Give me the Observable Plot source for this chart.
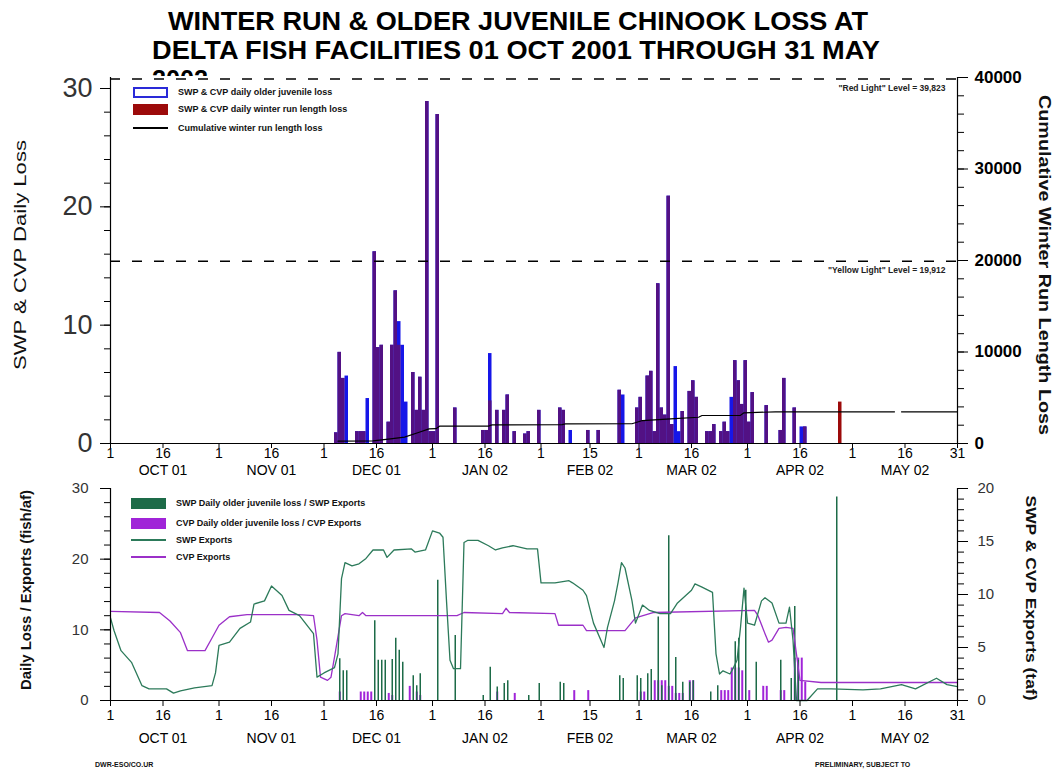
<!DOCTYPE html>
<html><head><meta charset="utf-8">
<script src="https://cdn.jsdelivr.net/npm/d3@7"></script>
<script src="https://cdn.jsdelivr.net/npm/@observablehq/plot@0.6"></script>
<style>
html,body{margin:0;padding:0;background:#fff;}
body{width:1060px;height:773px;position:relative;overflow:hidden;font-family:"Liberation Sans",Arial,sans-serif;}
.abs{position:absolute;}
.leg{position:absolute;font-size:9px;font-weight:bold;color:#111;white-space:nowrap;line-height:10px;}
.sw{position:absolute;box-sizing:border-box;}
</style></head><body>
<svg id="title" class="abs" style="left:0;top:0" width="1060" height="76"></svg>
<div id="top" class="abs" style="left:0;top:70px"></div>
<div id="bottom" class="abs" style="left:0;top:478px"></div>
<svg id="overlay" class="abs" style="left:0;top:0;pointer-events:none" width="1060" height="773"></svg>
<script>
// ---------------- DATA ----------------
const titleLines = ["WINTER RUN & OLDER JUVENILE CHINOOK LOSS AT", "DELTA FISH FACILITIES 01 OCT 2001 THROUGH 31 MAY", "2002"];
const tickDates = ["2001-10-01","2001-10-16","2001-11-01","2001-11-16","2001-12-01","2001-12-16","2002-01-01","2002-01-16","2002-02-01","2002-02-15","2002-03-01","2002-03-16","2002-04-01","2002-04-16","2002-05-01","2002-05-16","2002-05-31"];
const monthLabels = ["OCT 01","NOV 01","DEC 01","JAN 02","FEB 02","MAR 02","APR 02","MAY 02"];
const monthLabelDates = ["2001-10-16","2001-11-16","2001-12-16","2002-01-16","2002-02-15","2002-03-16","2002-04-16","2002-05-16"];

// top panel: days since 01 Oct 2001
const topDays = [64,65,66,67,70,71,72,73,75,76,77,79,80,81,82,83,84,86,87,88,89,90,91,92,93,98,106,107,108,110,112,113,115,118,119,122,128,129,131,136,139,145,146,150,151,152,153,154,155,156,157,158,159,160,161,162,163,165,166,167,170,171,172,174,175,176,177,178,179,180,181,182,183,187,191,192,195,197,198,208];
const juvLoss = [0.9,7.7,5.5,5.7,1.0,1.0,1.0,3.8,16.2,8.1,8.3,1.8,8.3,12.9,10.3,8.3,3.5,6.0,2.8,5.6,2.8,28.9,1.0,1.0,27.8,3.0,1.1,1.1,7.6,2.8,2.8,4.1,1.0,0.8,1.0,2.8,3.0,2.8,1.1,1.1,1.1,4.5,4.1,3.0,3.9,1.9,5.7,6.1,1.0,13.5,3.0,2.4,20.9,1.6,6.5,1.0,2.7,4.4,5.3,3.9,1.0,1.0,1.6,1.0,1.8,1.0,3.9,7.0,5.3,3.3,7.0,1.8,4.3,3.2,1.1,5.5,3.0,1.4,1.4,0];
const wrLoss = [0.9,7.7,5.5,0,1.0,1.0,1.0,0,16.2,8.1,8.3,1.8,8.3,12.9,8.3,0,0,6.0,2.8,5.6,2.8,28.9,1.0,1.0,27.8,3.0,1.1,1.1,3.6,2.8,2.8,4.1,1.0,0.8,1.0,2.8,3.0,2.8,0,1.1,1.1,4.5,0,3.0,3.9,1.9,5.7,6.1,1.0,13.5,3.0,2.4,20.9,1.6,0,0,2.7,4.4,5.3,3.9,1.0,1.0,1.6,1.0,1.8,1.0,0,7.0,5.3,3.3,7.0,1.8,4.3,3.2,1.1,5.5,3.0,0,1.4,3.5];
const cumDays = [65,75,80,84,88,91,93,94,108,109,129,130,149,152,160,168,169,180,181,190,224,225,226,242];
const cumLoss = [250,280,500,700,1200,1600,1620,1890,1900,2040,2060,2150,2160,2510,2700,2870,3060,3080,3350,3460,3460,null,3460,3460];
const redLight = 39823;
const yellowLight = 19912;

// bottom panel
const swpExpDays = [0,1,3,6,9,11,16,18,20,24,29,30,31,34,37,40,41,44,46,49,51,54,58,59,61,64,65,66,67,69,71,73,75,78,79,81,86,87,90,92,94,95,96,97,98,100,101,102,105,108,110,112,115,119,122,123,127,131,132,135,136,138,141,142,144,145,146,147,149,150,152,154,157,160,162,166,167,169,172,173,174,175,177,178,179,180,181,182,184,186,187,189,191,193,194,195,196,199,202,206,215,220,226,230,236,239,242];
const swpExports = [7.8,6.6,4.7,3.6,1.4,1.1,1.1,0.7,0.9,1.2,1.4,2.6,5.2,5.5,6.8,7.4,9.1,9.4,10.8,9.9,8.5,8.0,6.3,2.2,2.6,3.1,4.4,11.5,13.0,12.7,12.9,13.4,14.2,14.2,13.5,14.2,14.3,14.0,14.2,16.0,15.8,15.4,9.4,3.8,3.0,3.0,14.9,15.1,15.1,14.6,14.2,14.4,14.6,14.3,14.3,11.1,11.1,11.3,11.1,10.4,9.9,7.3,5.0,6.9,9.4,11.1,13.0,12.5,9.4,7.3,9.0,8.5,8.2,8.2,9.2,10.4,11.0,10.7,10.2,4.4,2.5,2.8,2.5,3.1,3.8,6.9,10.6,7.3,7.1,9.4,9.7,9.2,7.3,7.3,8.8,5.7,0,0,1.1,1.1,1.0,1.1,1.5,1.1,2.1,1.5,1.3];
const cvpExpDays = [0,14,17,20,22,27,29,31,34,39,54,58,59,60,62,63,64,66,67,71,72,73,99,101,112,113,114,127,128,135,136,147,150,155,184,185,187,188,189,191,193,195,197,203,242];
const cvpExports = [8.4,8.3,7.5,6.4,4.7,4.7,5.9,7.1,7.9,8.1,8.1,8.0,5.7,2.2,1.9,2.2,4.1,8.0,8.2,8.0,8.3,8.0,8.0,8.3,8.2,8.7,8.3,8.2,7.1,7.1,6.6,6.6,7.8,8.3,8.5,8.0,6.3,5.5,5.7,6.8,6.9,6.8,1.9,1.7,1.7];
const swpLossDays = [65,66,67,75,76,77,78,80,81,82,83,86,87,88,93,98,106,108,110,112,113,119,122,128,129,145,146,150,151,153,154,156,157,159,161,163,165,166,171,173,178,179,181,184,191,194,195,196,207];
const swpLossRatio = [5.9,4.2,4.2,11.3,5.7,5.7,5.7,5.8,8.8,7.1,5.4,3.5,2.1,3.8,17.0,9.2,0.7,4.7,1.9,2.4,2.8,0.7,2.4,2.6,2.4,3.5,3.1,3.5,3.1,3.8,4.4,11.8,2.1,23.3,6.1,2.6,2.6,2.8,1.2,2.1,8.3,8.8,15.6,5.4,5.7,3.1,13.3,5.7,28.8];
const cvpLossDays = [65,71,72,73,74,79,80,85,87,88,110,115,132,136,151,152,155,156,157,158,159,160,161,162,163,165,166,174,175,176,177,178,179,180,182,186,187,191,192,195,196,197,198];
const cvpLossRatio = [1.2,1.2,1.2,1.2,1.2,1.0,0.7,2.0,1.2,0.7,1.2,1.0,1.4,1.4,1.2,1.2,2.8,2.8,2.8,2.8,2.0,2.0,1.0,1.0,1.0,2.8,2.8,1.4,1.4,1.4,4.6,4.6,4.6,4.2,1.4,2.0,2.0,1.4,1.4,6.0,6.0,6.0,2.6];

// ---------------- BUILD ----------------
const FONT = "Liberation Sans, Arial, sans-serif";
const BLUE = "#1616e8", RED = "#9c0a0a", PURPLE = d3.interpolateRgb(BLUE, RED)(0.45);
const SWPG = "#1d6b48", SWPL = "#2c7a5a", CVPP = "#a024d8", CVPL = "#9b30c8";
const startDate = new Date("2001-10-01"), endDate = new Date("2002-05-31");
const dayToDate = d => new Date(startDate.getTime() + d * 864e5);
const ticks = tickDates.map(s => new Date(s));
const months = monthLabels.map((l, i) => ({date: new Date(monthLabelDates[i]), label: l}));

const topMax = 30 * 366 / 355;
const cumK = topMax / 40000;
const bars = topDays.map((d, i) => ({d0: dayToDate(d), d1: dayToDate(d + 1), juv: juvLoss[i], wr: wrLoss[i]}));
const cum = cumDays.map((d, i) => ({date: dayToDate(d), cum: cumLoss[i]}));
const fmt = d3.format(",");

const topPlot = Plot.plot({
  width: 1060, height: 410,
  marginLeft: 110, marginRight: 103, marginTop: 7, marginBottom: 37,
  style: {fontFamily: FONT, background: "transparent", color: "#000", overflow: "visible"},
  x: {type: "utc", domain: [startDate, endDate]},
  y: {domain: [0, topMax]},
  marks: [
    Plot.rect(bars.filter(b => b.juv > 0), {x1: "d0", x2: "d1", y1: 0, y2: "juv", fill: BLUE}),
    Plot.rect(bars.filter(b => b.wr > 0 && b.juv > 0), {x1: "d0", x2: "d1", y1: 0, y2: "wr", fill: PURPLE}),
    Plot.rect(bars.filter(b => b.wr > 0 && b.juv === 0), {x1: "d0", x2: "d1", y1: 0, y2: "wr", fill: RED}),
    Plot.ruleY([redLight * cumK, yellowLight * cumK], {stroke: "#000", strokeWidth: 1.5, strokeDasharray: "10,12"}),
    Plot.line(cum, {x: "date", y: d => d.cum == null ? NaN : d.cum * cumK, stroke: "#000", strokeWidth: 1.2}),
    Plot.text([{x: endDate, y: redLight * cumK, t: `"Red Light" Level = ${fmt(redLight)}`},
               {x: endDate, y: yellowLight * cumK, t: `"Yellow Light" Level = ${fmt(yellowLight)}`}],
      {x: "x", y: "y", text: "t", dx: -12, dy: 9, textAnchor: "end", fontSize: 8.5, fontWeight: "bold", fill: "#222"}),
    Plot.ruleY([0], {stroke: "#000", strokeWidth: 1.2}),
    Plot.ruleX([startDate, endDate], {y1: 0, y2: topMax, stroke: "#000", strokeWidth: 1.2}),
    Plot.axisY({ticks: [0, 10, 20, 30], tickSize: 10, tickPadding: 8, fontSize: 27, fill: "#333", label: null}),
    Plot.axisY({ticks: d3.range(0, 31, 2), tickSize: 6, tickFormat: () => "", label: null}),
    Plot.axisY({anchor: "right", ticks: d3.range(0, 40001, 10000).map(v => v * cumK), tickFormat: v => String(Math.round(v / cumK)), tickSize: 10, tickPadding: 7, fontSize: 17, fontWeight: "bold", label: null}),
    Plot.axisY({anchor: "right", ticks: d3.range(0, 40001, 2000).map(v => v * cumK), tickSize: 6, tickFormat: () => "", label: null}),
    Plot.axisX({ticks: ticks, tickFormat: d => String(d.getUTCDate()), tickSize: 5, tickPadding: 0, fontSize: 14, label: null}),
    Plot.text(months, {x: "date", y: 0, dy: 27, text: "label", fontSize: 14})
  ]
});
document.getElementById("top").appendChild(topPlot);

const expK = 30 / 20;
const swpExp = swpExpDays.map((d, i) => ({date: dayToDate(d), v: swpExports[i]}));
const cvpExp = cvpExpDays.map((d, i) => ({date: dayToDate(d), v: cvpExports[i]}));
const swpBars = swpLossDays.map((d, i) => ({date: dayToDate(d + 0.5), v: swpLossRatio[i]}));
const cvpBars = cvpLossDays.map((d, i) => ({date: dayToDate(d + 0.5), v: cvpLossRatio[i]}));

const botPlot = Plot.plot({
  width: 1060, height: 270,
  marginLeft: 110, marginRight: 103, marginTop: 10, marginBottom: 48,
  style: {fontFamily: FONT, background: "transparent", color: "#000", overflow: "visible"},
  x: {type: "utc", domain: [startDate, endDate]},
  y: {domain: [0, 30]},
  marks: [
    Plot.ruleX(cvpBars, {x: "date", y1: 0, y2: "v", stroke: CVPP, strokeWidth: 2}),
    Plot.ruleX(swpBars, {x: "date", y1: 0, y2: "v", stroke: SWPG, strokeWidth: 1.5}),
    Plot.line(cvpExp, {x: "date", y: d => d.v * expK, stroke: CVPL, strokeWidth: 1.3}),
    Plot.line(swpExp, {x: "date", y: d => d.v * expK, stroke: SWPL, strokeWidth: 1.3}),
    Plot.ruleY([0], {stroke: "#000", strokeWidth: 1.2}),
    Plot.ruleX([startDate, endDate], {y1: 0, y2: 30, stroke: "#000", strokeWidth: 1.2}),
    Plot.axisY({ticks: [0, 10, 20, 30], tickSize: 10, tickPadding: 12, fontSize: 15, fill: "#333", label: null}),
    Plot.axisY({ticks: d3.range(0, 31, 2), tickSize: 6, tickFormat: () => "", label: null}),
    Plot.axisY({anchor: "right", ticks: d3.range(0, 21, 5).map(v => v * expK), tickFormat: v => String(Math.round(v / expK)), tickSize: 10, tickPadding: 10, fontSize: 15, fill: "#333", label: null}),
    Plot.axisY({anchor: "right", ticks: d3.range(0, 21, 1).map(v => v * expK), tickSize: 6, tickFormat: () => "", label: null}),
    Plot.axisX({ticks: ticks, tickFormat: d => String(d.getUTCDate()), tickSize: 6, tickPadding: 4, fontSize: 14, label: null}),
    Plot.text(months, {x: "date", y: 0, dy: 38, text: "label", fontSize: 14})
  ]
});
document.getElementById("bottom").appendChild(botPlot);

// ---------------- TITLE ----------------
const NS = "http://www.w3.org/2000/svg";
const title = d3.select("#title");
const tPos = [{x: 168, y: 30, w: 700}, {x: 152, y: 59, w: 728}, {x: 152, y: 88, w: 56}];
titleLines.forEach((t, i) => {
  title.append("text").attr("x", tPos[i].x).attr("y", tPos[i].y)
    .attr("textLength", tPos[i].w).attr("lengthAdjust", "spacingAndGlyphs")
    .attr("font-family", FONT).attr("font-weight", "bold").attr("font-size", 26).text(t);
});

// ---------------- AXIS TITLES ----------------
const ov = d3.select("#overlay");
const axisTitles = [
  {t: "SWP & CVP Daily Loss", x: 22, y: 255, r: -90, len: 230, fs: 17, fw: "normal"},
  {t: "Cumulative Winter Run Length Loss", x: 1043, y: 265, r: 90, len: 340, fs: 17, fw: "bold"},
  {t: "Daily Loss / Exports (fish/af)", x: 27, y: 590, r: -90, len: 200, fs: 14, fw: "bold"},
  {t: "SWP & CVP Exports (taf)", x: 1030, y: 598, r: 90, len: 205, fs: 15, fw: "bold"}
];
axisTitles.forEach(a => {
  ov.append("text").attr("transform", `translate(${a.x},${a.y}) rotate(${a.r})`)
    .attr("text-anchor", "middle").attr("dominant-baseline", "middle")
    .attr("textLength", a.len).attr("lengthAdjust", "spacingAndGlyphs")
    .attr("font-family", FONT).attr("font-size", a.fs).attr("font-weight", a.fw).attr("fill", "#111").text(a.t);
});

// ---------------- LEGENDS ----------------
function legItem(kind, color, label, x, y) {
  const sw = document.createElement("div");
  sw.className = "sw";
  if (kind === "box-outline") { Object.assign(sw.style, {left: x+"px", top: (y-5)+"px", width: "35px", height: "11px", border: `2px solid ${color}`, background: "#fff"}); }
  else if (kind === "box") { Object.assign(sw.style, {left: x+"px", top: (y-5)+"px", width: "35px", height: "11px", background: color}); }
  else { Object.assign(sw.style, {left: x+"px", top: (y-1)+"px", width: "35px", height: "1.5px", background: color}); }
  document.body.appendChild(sw);
  const tx = document.createElement("div");
  tx.className = "leg"; tx.textContent = label;
  Object.assign(tx.style, {left: (x+45)+"px", top: (y-5)+"px"});
  document.body.appendChild(tx);
}
legItem("box-outline", "#2a2ad8", "SWP & CVP daily older juvenile loss", 133, 92);
legItem("box", RED, "SWP & CVP daily winter run length loss", 133, 109);
legItem("line", "#000", "Cumulative winter run length loss", 133, 128);
legItem("box", SWPG, "SWP Daily older juvenile loss / SWP Exports", 131, 503);
legItem("box", CVPP, "CVP Daily older juvenile loss / CVP Exports", 131, 523);
legItem("line", SWPL, "SWP Exports", 131, 540);
legItem("line", CVPL, "CVP Exports", 131, 557);

// ---------------- FOOTER ----------------
const foot = [{t: "DWR-ESO/CO.UR", x: 95}, {t: "PRELIMINARY, SUBJECT TO", x: 815}];
foot.forEach(f => {
  const d = document.createElement("div");
  d.className = "leg"; d.textContent = f.t;
  Object.assign(d.style, {left: f.x+"px", top: "760px", fontSize: "7px"});
  document.body.appendChild(d);
});
</script>
</body></html>
